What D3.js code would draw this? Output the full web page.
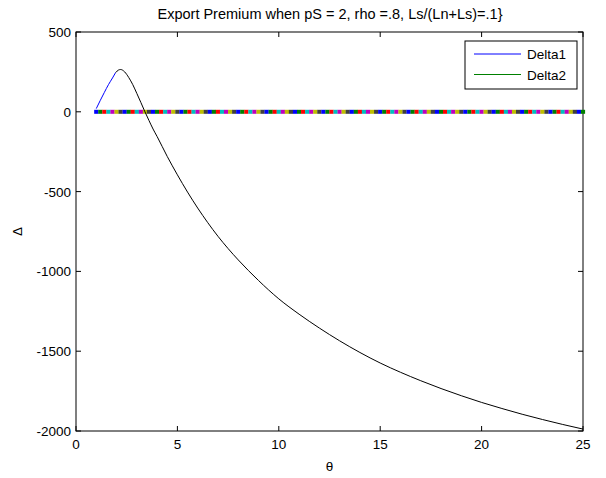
<!DOCTYPE html>
<html>
<head>
<meta charset="utf-8">
<title>Export Premium</title>
<script src="https://cdn.jsdelivr.net/npm/d3@7"></script>
<style>
  body { margin: 0; background: #fff; }
  svg { font-family: Arial, "Liberation Sans", sans-serif; }
</style>
</head>
<body>
<svg width="606" height="478"></svg>
<script>
// Delta1 (blue rising part)
const theta1 = [1.0, 1.2, 1.4, 1.6, 1.8, 1.95];
const delta1 = [20, 72, 122, 170, 212, 245];

// rest of the curve (black)
const thetaK = [1.95, 2.1, 2.2, 2.4, 2.6, 2.8, 3.0, 3.2, 3.4, 3.6, 3.8, 4, 4.5, 5, 5.5, 6, 6.5, 7, 7.5, 8, 9, 10, 11, 12, 13, 14, 15, 16, 17, 18, 19, 20, 21, 22, 23, 24, 25];
const deltaK = [245, 262, 265, 250, 215, 170, 115, 58, 0, -55, -108, -155, -280, -395, -503, -603, -695, -780, -857, -928, -1057, -1172, -1268, -1355, -1435, -1508, -1574, -1632, -1685, -1734, -1779, -1821, -1859, -1895, -1928, -1959, -1988];

// Delta2 and the other flat series sit on zero, drawn as markers
const thetaZero = [1,1.2,1.4,1.6,1.8,2,2.2,2.4,2.6,2.8,3,3.2,3.4,3.6,3.8,4,4.2,4.4,4.6,4.8,5,5.2,5.4,5.6,5.8,6,6.2,6.4,6.6,6.8,7,7.2,7.4,7.6,7.8,8,8.2,8.4,8.6,8.8,9,9.2,9.4,9.6,9.8,10,10.2,10.4,10.6,10.8,11,11.2,11.4,11.6,11.8,12,12.2,12.4,12.6,12.8,13,13.2,13.4,13.6,13.8,14,14.2,14.4,14.6,14.8,15,15.2,15.4,15.6,15.8,16,16.2,16.4,16.6,16.8,17,17.2,17.4,17.6,17.8,18,18.2,18.4,18.6,18.8,19,19.2,19.4,19.6,19.8,20,20.2,20.4,20.6,20.8,21,21.2,21.4,21.6,21.8,22,22.2,22.4,22.6,22.8,23,23.2,23.4,23.6,23.8,24,24.2,24.4,24.6,24.8,25];
const markerColors = ["#0000ff", "#008000", "#ff0000", "#00bfbf", "#bf00bf", "#bfbf00", "#404040"];

const xTicks = [0, 5, 10, 15, 20, 25];
const yTicks = [500, 0, -500, -1000, -1500, -2000];
const legendNames = ["Delta1", "Delta2"];
const legendColors = ["#0000ff", "#008000"];

const svg = d3.select("svg");
const pLeft = 76, pRight = 583, pTop = 32, pBottom = 431;

const x = d3.scaleLinear().domain([0, 25]).range([pLeft, pRight]);
const y = d3.scaleLinear().domain([-2000, 500]).range([pBottom, pTop]);

// box
svg.append("rect")
    .attr("x", pLeft).attr("y", pTop)
    .attr("width", pRight - pLeft).attr("height", pBottom - pTop)
    .attr("fill", "none").attr("stroke", "#000").attr("stroke-width", 1);

// ticks, mirrored like matlab
const tl = 5;
svg.append("g").selectAll("line").data(xTicks).enter().append("line")
    .attr("x1", d => x(d)).attr("x2", d => x(d))
    .attr("y1", pBottom).attr("y2", pBottom - tl)
    .attr("stroke", "#000");
svg.append("g").selectAll("line").data(xTicks).enter().append("line")
    .attr("x1", d => x(d)).attr("x2", d => x(d))
    .attr("y1", pTop).attr("y2", pTop + tl)
    .attr("stroke", "#000");
svg.append("g").selectAll("line").data(yTicks).enter().append("line")
    .attr("x1", pLeft).attr("x2", pLeft + tl)
    .attr("y1", d => y(d)).attr("y2", d => y(d))
    .attr("stroke", "#000");
svg.append("g").selectAll("line").data(yTicks).enter().append("line")
    .attr("x1", pRight).attr("x2", pRight - tl)
    .attr("y1", d => y(d)).attr("y2", d => y(d))
    .attr("stroke", "#000");

svg.append("g").selectAll("text").data(xTicks).enter().append("text")
    .attr("x", d => x(d)).attr("y", pBottom + 18)
    .attr("text-anchor", "middle").attr("font-size", 13.5)
    .text(d => d);
svg.append("g").selectAll("text").data(yTicks).enter().append("text")
    .attr("x", pLeft - 5).attr("y", d => y(d) + 5)
    .attr("text-anchor", "end").attr("font-size", 13.5)
    .text(d => d);

// zero markers, dense enough to read as a band
svg.append("g").selectAll("rect").data(thetaZero).enter().append("rect")
    .attr("x", d => x(d) - 2.1).attr("y", y(0) - 2)
    .attr("width", 4.2).attr("height", 4)
    .attr("fill", (d, i) => markerColors[i % markerColors.length]);

const line = d3.line().x(d => x(d[0])).y(d => y(d[1])).curve(d3.curveMonotoneX);

svg.append("path")
    .datum(thetaK.map((t, i) => [t, deltaK[i]]))
    .attr("d", line).attr("fill", "none").attr("stroke", "#000").attr("stroke-width", 1);
svg.append("path")
    .datum(theta1.map((t, i) => [t, delta1[i]]))
    .attr("d", line).attr("fill", "none").attr("stroke", "#0000ff").attr("stroke-width", 1);

// title and axis labels
svg.append("text")
    .attr("x", 330).attr("y", 19)
    .attr("text-anchor", "middle").attr("font-size", 14.5)
    .text("Export Premium when pS = 2, rho =.8, Ls/(Ln+Ls)=.1}");
svg.append("text")
    .attr("x", (pLeft + pRight) / 2).attr("y", 471)
    .attr("text-anchor", "middle").attr("font-size", 13.5)
    .text("θ");
svg.append("text")
    .attr("transform", "translate(22," + y(-750) + ") rotate(-90)")
    .attr("text-anchor", "middle").attr("font-size", 13.5)
    .text("Δ");

// legend
const lg = svg.append("g");
lg.append("rect")
    .attr("x", 465).attr("y", 41).attr("width", 112).attr("height", 48)
    .attr("fill", "#fff").attr("stroke", "#000");
const rows = lg.selectAll("g.row").data(legendNames).enter().append("g")
    .attr("transform", (d, i) => "translate(0," + (54 + i * 20.5) + ")");
rows.append("line")
    .attr("x1", 474).attr("x2", 521).attr("y1", 0).attr("y2", 0)
    .attr("stroke", (d, i) => legendColors[i]);
rows.append("text")
    .attr("x", 527).attr("y", 5).attr("font-size", 13.5)
    .text(d => d);
</script>
</body>
</html>
